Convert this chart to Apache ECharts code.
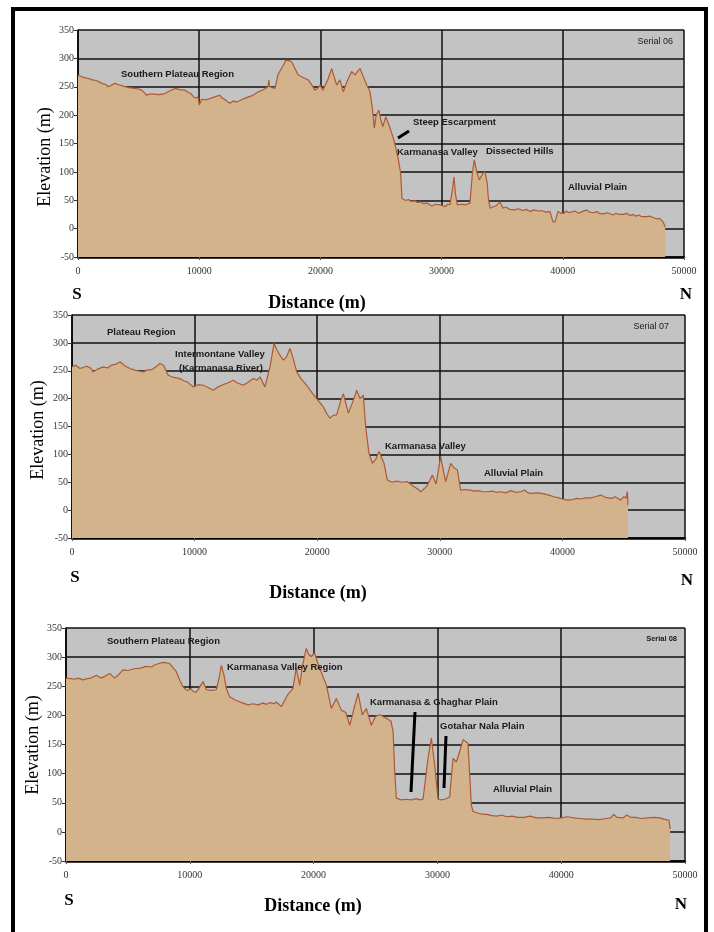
<!DOCTYPE html>
<html><head><meta charset="utf-8">
<script src="https://cdn.jsdelivr.net/npm/echarts@6/dist/echarts.min.js"></script>
<style>html,body{margin:0;padding:0;background:#fff}#c{width:714px;height:932px}</style>
</head><body><div id="c"></div>
<script>
// ---- Data: [distance (m), elevation (m)] read from the profiles ----
const xTicks = [0, 10000, 20000, 30000, 40000, 50000];
const yTicks = [-50, 0, 50, 100, 150, 200, 250, 300, 350];

const profile06 = [[0,270],[300,268],[500,266],[800,265],[1200,262],[1500,261],[2000,256],[2300,254],[2475,250],[2700,252],[3050,256],[3300,254],[3600,252],[3900,250],[4300,248],[4700,247],[5000,246],[5250,244],[5450,240],[5660,235],[5900,237],[6300,237],[6700,236],[7180,238],[7500,242],[8000,247],[8400,245],[8830,244],[9100,240],[9300,238],[9650,230],[9900,232],[10000,218],[10200,228],[10600,227],[11000,230],[11400,233],[11720,235],[11900,230],[12100,228],[12300,224],[12540,221],[12800,225],[13100,223],[13500,227],[13800,230],[14200,233],[14500,236],[14870,241],[15100,243],[15400,246],[15680,250],[15750,262],[15800,250],[16000,249],[16250,247],[16500,271],[16800,283],[17000,290],[17140,297],[17400,296],[17630,294],[17900,282],[18150,271],[18400,268],[18600,266],[19000,262],[19300,253],[19550,244],[19800,248],[19970,253],[20200,244],[20600,262],[20930,282],[21100,270],[21340,253],[21620,262],[21890,241],[22250,262],[22580,277],[22850,271],[23100,278],[23270,282],[23500,270],[23820,253],[24090,241],[24300,210],[24450,177],[24600,200],[24830,209],[25000,190],[25150,180],[25390,197],[25700,180],[26070,156],[26400,125],[26620,98],[26730,53],[27000,50],[27300,51],[27500,48],[27800,49],[28000,46],[28300,47],[28500,44],[28800,45],[29200,40],[29500,43],[29870,42],[30100,40],[30300,39],[30500,43],[30690,42],[30900,70],[31020,91],[31150,60],[31300,42],[31600,43],[32000,42],[32340,45],[32550,100],[32700,121],[32900,100],[33110,86],[33400,97],[33580,100],[33760,80],[33860,53],[34000,36],[34300,39],[34500,40],[34820,47],[35070,36],[35300,38],[35600,34],[36000,33],[36300,35],[36700,32],[37000,34],[37290,30],[37600,33],[38000,31],[38200,32],[38600,29],[38940,30],[39190,12],[39360,12],[39600,30],[39850,27],[40100,27],[40300,31],[40500,28],[40800,30],[41000,31],[41300,27],[41500,29],[41970,33],[42200,29],[42500,28],[42800,30],[43000,27],[43300,26],[43700,28],[44140,24],[44400,27],[44600,25],[45000,25],[45300,27],[45500,23],[45800,25],[46000,22],[46300,24],[46500,21],[46920,21],[47200,22],[47400,20],[47800,17],[48000,18],[48270,12],[48450,3]];

const profile07 = [[0,257],[300,260],[650,254],[1200,258],[1500,255],[1740,248],[2100,253],[2550,257],[2900,255],[3200,260],[3600,262],[3920,266],[4300,259],[4730,254],[5000,252],[5300,250],[5820,248],[6100,251],[6500,252],[6900,258],[7180,263],[7460,260],[7850,242],[8300,238],[8810,236],[9100,232],[9400,230],[9900,221],[10300,225],[10710,224],[11100,220],[11530,215],[11900,221],[12300,225],[12700,228],[13160,233],[13500,228],[13970,224],[14400,230],[14790,236],[15100,233],[15330,239],[15740,221],[16150,257],[16480,299],[16700,288],[16900,280],[17240,269],[17500,275],[17780,290],[18000,275],[18330,248],[18700,235],[19140,224],[19600,210],[19960,200],[20500,185],[20800,172],[21040,165],[21300,170],[21590,171],[21900,195],[22130,209],[22350,190],[22540,174],[23000,200],[23220,215],[23490,200],[23760,206],[23950,150],[24220,102],[24500,84],[24800,92],[25040,105],[25450,84],[25720,54],[26100,50],[26500,52],[26900,50],[27350,51],[27600,47],[27900,42],[28200,38],[28440,33],[28800,40],[29000,45],[29390,63],[29700,47],[30070,96],[30300,70],[30480,51],[30890,84],[31200,75],[31430,72],[31700,36],[32000,37],[32500,36],[32800,34],[33200,35],[33500,33],[33880,33],[34300,34],[34600,32],[35000,33],[35400,31],[35800,35],[36200,32],[36600,33],[36900,36],[37200,31],[37500,30],[38000,31],[38500,29],[38900,27],[39310,24],[39700,22],[40000,20],[40400,18],[40800,19],[41200,21],[41500,20],[41900,22],[42300,22],[42700,24],[43120,27],[43500,23],[44000,21],[44300,24],[44750,18],[45000,24],[45200,22],[45300,33],[45350,9]];

const profile08 = [[0,264],[400,263],[700,262],[1000,264],[1370,261],[1700,263],[2000,264],[2450,269],[2800,264],[3130,267],[3530,272],[3930,264],[4300,271],[4600,278],[5000,277],[5500,280],[6000,281],[6490,284],[6900,283],[7200,287],[7500,289],[7840,291],[8100,290],[8380,289],[8910,275],[9200,260],[9450,249],[9700,244],[9900,243],[10100,246],[10260,241],[10500,240],[10700,245],[11070,258],[11340,244],[11700,243],[12140,244],[12400,268],[12550,286],[12750,270],[12950,246],[13220,232],[13700,226],[14300,221],[14700,218],[15100,220],[15500,218],[15910,221],[16200,219],[16500,222],[16800,220],[16990,223],[17390,215],[17900,235],[18330,246],[18600,281],[18880,252],[19100,285],[19410,315],[19600,305],[19810,301],[20090,307],[20300,292],[20490,281],[21030,252],[21430,212],[21840,229],[22240,209],[22600,205],[22920,183],[23300,215],[23590,238],[23940,201],[24260,212],[24660,183],[25000,198],[25340,201],[25600,198],[25880,195],[26250,190],[26420,172],[26540,109],[26680,58],[27100,55],[27500,56],[27900,55],[28300,57],[28600,55],[28840,56],[29240,126],[29510,161],[29780,115],[30050,56],[30300,55],[30600,56],[30990,60],[31260,126],[31530,120],[31800,138],[32070,158],[32300,155],[32470,152],[32740,46],[32880,35],[33300,32],[33700,30],[34000,30],[34400,28],[34800,27],[35200,29],[35570,26],[36000,27],[36500,25],[37000,25],[37500,27],[38000,24],[38500,24],[39000,25],[39610,23],[40000,24],[40500,26],[41000,24],[41500,23],[42000,22],[42500,22],[43000,21],[43650,23],[44000,24],[44240,30],[44500,25],[45000,24],[45300,29],[45600,25],[46000,25],[46500,23],[47000,24],[47500,25],[47950,24],[48300,22],[48710,20],[48800,5]];

const chart = echarts.init(document.getElementById('c'));
const grids = [
  {left: 78, top: 30, width: 606, height: 227},
  {left: 72, top: 315, width: 613, height: 223},
  {left: 66, top: 628, width: 619, height: 233}
];
const serif = '"Liberation Serif","Times New Roman",serif';
const sans = '"Liberation Sans",Arial,sans-serif';

const xAxes = grids.map((g, i) => ({
  type: 'value', gridIndex: i, min: xTicks[0], max: xTicks[xTicks.length-1], interval: 10000,
  axisLine: {show: true, onZero: false, lineStyle: {color: '#000', width: 2.5}},
  axisTick: {show: true, length: 3, lineStyle: {color: '#555'}},
  axisLabel: {color: '#333', fontFamily: serif, fontSize: 10, margin: 9, formatter: v => String(v)},
  splitLine: {show: true, lineStyle: {color: '#111', width: 1.5}}
}));
const yAxes = grids.map((g, i) => ({
  type: 'value', gridIndex: i, min: yTicks[0], max: yTicks[yTicks.length-1], interval: 50,
  axisLine: {show: true, onZero: false, lineStyle: {color: '#000', width: 1.5}},
  axisTick: {show: true, length: 4, lineStyle: {color: '#333'}},
  axisLabel: {color: '#333', fontFamily: serif, fontSize: 10, margin: 4, formatter: v => String(v)},
  splitLine: {show: true, lineStyle: {color: '#111', width: 1.5}}
}));
const datasets = [profile06, profile07, profile08];
const series = datasets.map((d, i) => ({
  type: 'line', xAxisIndex: i, yAxisIndex: i, data: d, symbol: 'none', smooth: false,
  lineStyle: {color: '#ad5a33', width: 1.2},
  areaStyle: {color: '#d3b38b', opacity: 1, origin: 'start'},
  z: 2
}));

function txt(x, y, s, opt) {
  return Object.assign({type: 'text', x: x, y: y, z: 100,
    style: Object.assign({text: s, font: 'bold 9.5px ' + sans, fill: '#1a1a1a', textAlign: 'left', textVerticalAlign: 'middle'}, opt || {})});
}
function ln(x1, y1, x2, y2) {
  return {type: 'line', z: 100, shape: {x1, y1, x2, y2}, style: {stroke: '#000', lineWidth: 3}};
}
const graphics = [
  {type: 'rect', z: 200, shape: {x: 13, y: 9, width: 693, height: 930}, style: {fill: 'none', stroke: '#000', lineWidth: 4}},
  // chart 1
  txt(121, 74, 'Southern Plateau Region'),
  txt(673, 42, 'Serial 06', {font: '9px ' + sans, textAlign: 'right'}),
  txt(413, 122, 'Steep Escarpment'),
  ln(398, 138, 409, 131),
  txt(397, 152, 'Karmanasa Valley'),
  txt(486, 151, 'Dissected Hills'),
  txt(568, 187, 'Alluvial Plain'),
  // chart 2
  txt(107, 332, 'Plateau Region'),
  txt(669, 327, 'Serial 07', {font: '9px ' + sans, textAlign: 'right'}),
  txt(220, 354, 'Intermontane Valley', {textAlign: 'center'}),
  txt(221, 368, '(Karmanasa River)', {textAlign: 'center'}),
  txt(385, 446, 'Karmanasa Valley'),
  txt(484, 473, 'Alluvial Plain'),
  // chart 3
  txt(107, 641, 'Southern Plateau Region'),
  txt(227, 667, 'Karmanasa Valley Region'),
  txt(677, 639, 'Serial 08', {font: 'bold 7.5px ' + sans, textAlign: 'right'}),
  txt(370, 702, 'Karmanasa & Ghaghar Plain'),
  txt(440, 726, 'Gotahar Nala Plain'),
  txt(493, 789, 'Alluvial Plain'),
  ln(415, 712, 411, 792),
  ln(446, 736, 444, 788)
];
const axTitle = [
  {ex: 45, ey: 157, dx: 317, dy: 303, sx: 77, sy: 295, nx: 686, ny: 295},
  {ex: 38, ey: 430, dx: 318, dy: 593, sx: 75, sy: 578, nx: 687, ny: 581},
  {ex: 33, ey: 745, dx: 313, dy: 906, sx: 69, sy: 901, nx: 681, ny: 905}
];
axTitle.forEach(a => {
  graphics.push({type: 'text', x: a.ex, y: a.ey, rotation: Math.PI / 2, z: 100,
    style: {text: 'Elevation (m)', font: '18px ' + serif, fill: '#000', textAlign: 'center', textVerticalAlign: 'middle'}});
  graphics.push(txt(a.dx, a.dy, 'Distance (m)', {font: 'bold 18px ' + serif, fill: '#000', textAlign: 'center'}));
  graphics.push(txt(a.sx, a.sy, 'S', {font: 'bold 17px ' + serif, fill: '#000', textAlign: 'center'}));
  graphics.push(txt(a.nx, a.ny, 'N', {font: 'bold 17px ' + serif, fill: '#000', textAlign: 'center'}));
});

chart.setOption({
  animation: false,
  backgroundColor: '#fff',
  grid: grids.map(g => Object.assign({show: true, backgroundColor: '#c3c3c3', borderWidth: 0}, g)),
  xAxis: xAxes,
  yAxis: yAxes,
  series: series,
  graphic: graphics
});
</script></body></html>
